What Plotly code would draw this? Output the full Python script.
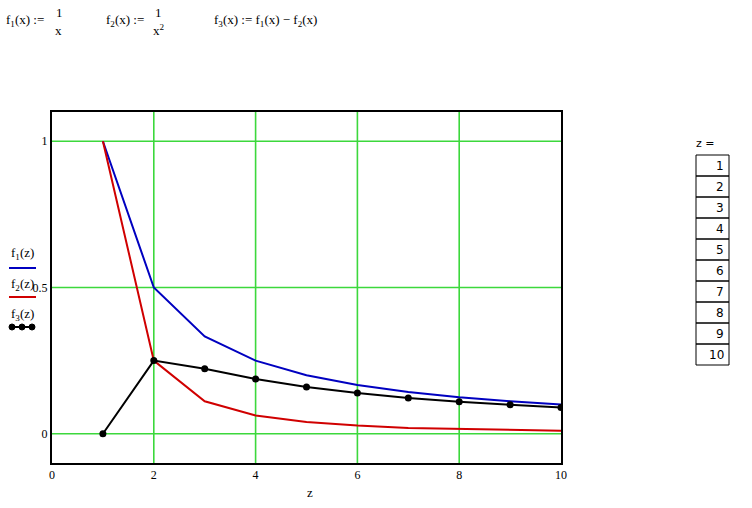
import plotly.graph_objects as go

z = [1, 2, 3, 4, 5, 6, 7, 8, 9, 10]
f1 = [1.0, 0.5, 0.333, 0.25, 0.2, 0.167, 0.143, 0.125, 0.111, 0.1]
f2 = [1.0, 0.25, 0.111, 0.0625, 0.04, 0.028, 0.020, 0.016, 0.012, 0.01]
f3 = [0.0, 0.25, 0.222, 0.1875, 0.16, 0.139, 0.122, 0.109, 0.099, 0.09]
x_ticks = [0, 2, 4, 6, 8, 10]
y_ticks = [0, 0.5, 1]
y_tick_text = ["0", "0.5", "1"]

W, H = 752, 508
L, R, T, B = 52, 561, 112, 463

def px(x):
    return (x - L) / (R - L)

def py(y):
    return (B - y) / (B - T)

SERIF = "Liberation Serif, Times New Roman, serif"
SANS = "DejaVu Sans, Verdana, sans-serif"
GRID = "#3cd83c"

fig = go.Figure()
fig.add_trace(go.Scatter(x=z, y=f1, mode="lines", line=dict(color="#0000c0", width=2), showlegend=False))
fig.add_trace(go.Scatter(x=z, y=f2, mode="lines", line=dict(color="#d00000", width=2), showlegend=False))
fig.add_trace(go.Scatter(x=z, y=f3, mode="lines+markers", line=dict(color="black", width=2),
                         marker=dict(color="black", size=7), showlegend=False))

ann = []
def text(x, y, s, size=13, font=SERIF, xanchor="left"):
    ann.append(dict(x=px(x), y=py(y), xref="paper", yref="paper", text=s, showarrow=False,
                    xanchor=xanchor, yanchor="middle", font=dict(family=font, size=size, color="black")))

# formulas at top
text(4, 21, "f<sub>1</sub>(x) :=")
text(54, 13, "1")
text(53, 30, "x")
text(104, 21, "f<sub>2</sub>(x) :=")
text(153, 13, "1")
text(151, 30, "x<sup>2</sup>")
text(212, 21, "f<sub>3</sub>(x) := f<sub>1</sub>(x) − f<sub>2</sub>(x)")

# legend labels
text(9, 253, "f<sub>1</sub>(z)")
text(9, 284, "f<sub>2</sub>(z)")
text(9, 314, "f<sub>3</sub>(z)")

# axis title
text(310, 493, "z", xanchor="center")

# table
text(694, 143, "z =", size=11, font=SANS)
shapes = []
# grid lines (green), drawn below the data
for gx in x_ticks[1:-1]:
    shapes.append(dict(type="line", xref="x", yref="paper", x0=gx, x1=gx, y0=0, y1=1, layer="below",
                       line=dict(color=GRID, width=1.6)))
for gy in y_ticks:
    shapes.append(dict(type="line", xref="paper", yref="y", x0=0, x1=1, y0=gy, y1=gy, layer="below",
                       line=dict(color=GRID, width=1.6)))

shapes.append(dict(type="line", xref="paper", yref="paper", x0=px(9), x1=px(36), y0=py(268), y1=py(268),
                   line=dict(color="#0000c0", width=2)))
shapes.append(dict(type="line", xref="paper", yref="paper", x0=px(9), x1=px(36), y0=py(297), y1=py(297),
                   line=dict(color="#d00000", width=2)))
shapes.append(dict(type="line", xref="paper", yref="paper", x0=px(11), x1=px(33), y0=py(327), y1=py(327),
                   line=dict(color="black", width=2)))
for cx in [12, 22, 32]:
    shapes.append(dict(type="circle", xref="paper", yref="paper", x0=px(cx - 3), x1=px(cx + 3),
                       y0=py(330), y1=py(324), fillcolor="black", line=dict(color="black", width=1)))

top, rowh = 155, 21
for i, v in enumerate(z):
    y0 = top + i * rowh
    shapes.append(dict(type="rect", xref="paper", yref="paper", x0=px(696), x1=px(729),
                       y0=py(y0 + rowh), y1=py(y0), line=dict(color="black", width=1)))
    text(726, y0 + rowh / 2, str(v), size=12, font=SANS, xanchor="right")

fig.update_layout(
    template="none",
    width=W, height=H,
    margin=dict(l=L, r=W - R, t=T, b=H - B, pad=0),
    paper_bgcolor="white", plot_bgcolor="white",
    annotations=ann, shapes=shapes,
    xaxis=dict(range=[0, 10], tickvals=x_ticks, showgrid=False,
               zeroline=False, showline=True, mirror=True, linecolor="black", linewidth=2,
               ticks="", tickfont=dict(family=SERIF, size=12, color="black")),
    yaxis=dict(range=[-0.1, 1.1], tickvals=y_ticks, ticktext=y_tick_text, showgrid=False,
               zeroline=False, showline=True, mirror=True,
               linecolor="black", linewidth=2, ticks="", tickfont=dict(family=SERIF, size=12, color="black")),
)

fig.write_html("out.html", config={"displayModeBar": False},
               post_script="document.body.style.margin='0';")
